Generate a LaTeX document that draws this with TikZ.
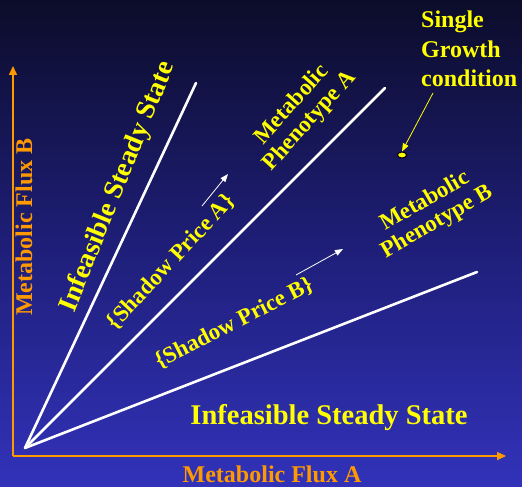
\documentclass[tikz,border=0pt]{standalone}
\usepackage{fontspec}
\setmainfont{Liberation Serif}
\usetikzlibrary{arrows.meta,shapes.geometric}
\definecolor{bgtop}{RGB}{12,12,42}
\definecolor{bgmid}{RGB}{30,30,120}
\definecolor{bgbot}{RGB}{50,50,186}
\definecolor{ylw}{RGB}{255,255,0}
\definecolor{org}{RGB}{255,153,0}
\tikzset{
  lbl/.style={text=ylw,font=\bfseries\fontsize{23}{24}\selectfont,inner sep=0pt,align=center},
  biglbl/.style={text=ylw,font=\bfseries\fontsize{28.5}{30}\selectfont,inner sep=0pt},
  axlbl/.style={text=org,font=\bfseries\fontsize{24}{26}\selectfont,inner sep=0pt},
  axis/.style={draw=org,line width=1.5pt,-{Triangle[length=9pt,width=8pt]}},
  ray/.style={draw=white,line width=2.6pt},
  sparrow/.style={draw=white,line width=0.8pt,-{Triangle[length=8pt,width=6pt]}},
}
\begin{document}
\begin{tikzpicture}[x=1pt,y=-1pt]
\useasboundingbox (0,0) rectangle (522,487);
\shade[top color=bgtop,bottom color=bgbot,middle color=bgmid] (0,0) rectangle (522,487);
% axes
\coordinate (C) at (13,456);
\coordinate (Ytip) at (13,66);
\coordinate (Xtip) at (506,456);
\draw[axis] (C) -- (Ytip);
\draw[axis] (C) -- (Xtip);
\node[axlbl,rotate=90] (fluxB) at (24,227) {Metabolic Flux B};
\node[axlbl] (fluxA) at (272,474) {Metabolic Flux A};
% rays
\coordinate (O) at (25,448);
\coordinate (R1) at (196,83);
\coordinate (R2) at (385,88);
\coordinate (R3) at (477,272);
\draw[ray,line cap=round] (O) -- (R1);
\draw[ray,line cap=round] (O) -- (R2);
\draw[ray,line cap=round] (O) -- (R3);
% labels
\node[biglbl,rotate=68,font=\bfseries\fontsize{27.5}{29}\selectfont] (infA) at (118,187) {Infeasible Steady State};
\node[biglbl] (infB) at (329,418) {Infeasible Steady State};
\node[lbl,rotate=47] (spA) at (171,262) {\{Shadow Price A\}};
\node[lbl,rotate=27] (spB) at (234,323) {\{Shadow Price B\}};
\node[lbl,rotate=48] (phA) at (301,113) {Metabolic\\Phenotype A};
\node[lbl,rotate=30] (phB) at (431,212) {Metabolic\\Phenotype B};
\node[text=ylw,font=\bfseries\fontsize{24}{29.5}\selectfont,inner sep=0pt,align=left,anchor=north west] (cond) at (421,11) {Single\\Growth\\condition};
% small arrows
\coordinate (aA1) at (202,206);
\coordinate (aA2) at (228,174);
\coordinate (aB1) at (296,275);
\coordinate (aB2) at (343,249);
\draw[sparrow] (aA1) -- (aA2);
\draw[sparrow] (aB1) -- (aB2);
% single growth point
\node[ellipse,draw=black,fill=ylw,line width=1pt,minimum width=9pt,minimum height=6pt,inner sep=0pt] (dot) at (402,155) {};
\coordinate (g1) at (433,93);
\draw[draw=ylw,line width=0.8pt,-{Triangle[length=8pt,width=6pt]}] (g1) -- (dot.north);
\end{tikzpicture}
\end{document}
